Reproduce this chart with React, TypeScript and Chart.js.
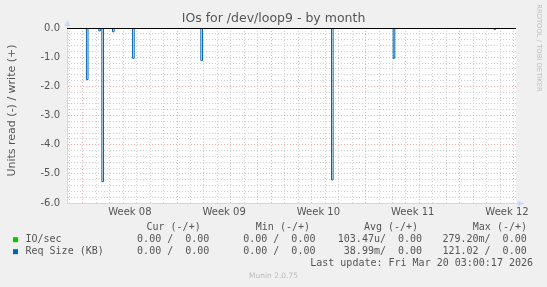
import { useEffect, useRef } from 'react';
import { Chart, registerables } from 'chart.js';

Chart.register(...registerables);

// ---- data (x in days since Monday of Week 08) ----
const rangeStart = -1.17;
const rangeEnd = 32.17;
const sampleStep = 0.12; // width of one consolidated sample, in days

const spikeStartDays = [0.27, 1.19, 1.42, 2.21, 3.7, 8.77, 18.47, 23.05, 30.54];
const reqSizeRead = [-1.77, -0.1, -5.27, -0.13, -1.04, -1.12, -5.21, -1.04, -0.05];
const ioSecRead = [0, 0, 0, 0, 0, 0, 0, 0, 0];

const weekLabels = ['Week 08', 'Week 09', 'Week 10', 'Week 11', 'Week 12'];
const weekMidDays = [3.5, 10.5, 17.5, 24.5, 31.5];
const gridDays = [-1, 0, 1, 2, 3, 4, 5, 6, 7, 8, 9, 10, 11, 12, 13, 14, 15, 16, 17, 18, 19, 20, 21, 22, 23, 24, 25, 26, 27, 28, 29, 30, 31, 32];
const yMajorTicks = [0, -1, -2, -3, -4, -5, -6];

const titleText = 'IOs for /dev/loop9 - by month';
const yTitleText = 'Units read (-) / write (+)';
const legendHeaders = ['Cur (-/+)', 'Min (-/+)', 'Avg (-/+)', 'Max (-/+)'];
const legendNames = ['IO/sec', 'Req Size (KB)'];
const legendColors = ['#00cc00', '#0066b3'];
const curVals = ['0.00 /  0.00', '0.00 /  0.00'];
const minVals = ['0.00 /  0.00', '0.00 /  0.00'];
const avgVals = ['103.47u/  0.00', ' 38.99m/  0.00'];
const maxVals = ['279.20m/  0.00', '121.02 /  0.00'];
const lastUpdate = 'Last update: Fri Mar 20 03:00:17 2026';
const muninVersion = 'Munin 2.0.75';
const watermark = 'RRDTOOL / TOBI OETIKER';

// step series: each spike is one consolidated sample held for sampleStep
function buildSeries(starts: number[], vals: number[]) {
  const pts: { x: number; y: number }[] = [{ x: rangeStart, y: 0 }];
  starts.forEach((t, i) => {
    pts.push({ x: t, y: vals[i] });
    pts.push({ x: t + sampleStep, y: 0 });
  });
  pts.push({ x: rangeEnd, y: 0 });
  return pts;
}

const yMinorTicks: number[] = [];
for (let i = 0; i <= 30; i++) yMinorTicks.push(Math.round((-6 + i * 0.2) * 10) / 10);

const MINOR = '#cfcfcf';
const MAJOR = 'rgba(226,110,110,0.55)';
const AXIS = '#CFD6F8';
const FONT = '#555555';

const isInt = (v: number) => Math.abs(v - Math.round(v)) < 1e-9;

const decor = {
  id: 'decor',
  beforeDraw(chart: any) {
    const { ctx, chartArea: a } = chart;
    ctx.save();
    ctx.fillStyle = '#f0f0f0';
    ctx.fillRect(0, 0, chart.width, chart.height);
    ctx.fillStyle = '#ffffff';
    ctx.fillRect(a.left, a.top, a.right - a.left, a.bottom - a.top);
    ctx.restore();
  },
  afterDatasetsDraw(chart: any) {
    const { ctx, chartArea: a } = chart;
    const y0 = Math.round(chart.scales.y.getPixelForValue(0)) + 0.5;
    ctx.save();
    ctx.strokeStyle = '#000000';
    ctx.lineWidth = 1;
    ctx.beginPath();
    ctx.moveTo(a.left, y0);
    ctx.lineTo(a.right, y0);
    ctx.stroke();
    ctx.restore();
  },
  afterDraw(chart: any) {
    const { ctx, chartArea: a } = chart;
    ctx.save();
    // arrows
    ctx.fillStyle = AXIS;
    ctx.beginPath();
    ctx.moveTo(a.left + 0.5, a.top - 8);
    ctx.lineTo(a.left + 3.5, a.top - 2);
    ctx.lineTo(a.left - 2.5, a.top - 2);
    ctx.closePath();
    ctx.fill();
    ctx.fillRect(a.left, a.top - 3, 1, 3);
    ctx.beginPath();
    ctx.moveTo(a.right + 8, a.bottom + 0.5);
    ctx.lineTo(a.right + 2, a.bottom - 2.5);
    ctx.lineTo(a.right + 2, a.bottom + 3.5);
    ctx.closePath();
    ctx.fill();
    ctx.fillRect(a.right, a.bottom, 3, 1);

    // title
    ctx.fillStyle = FONT;
    ctx.textAlign = 'center';
    ctx.textBaseline = 'middle';
    ctx.font = '12.5px "DejaVu Sans"';
    ctx.fillText(titleText, 273.5, 19);

    // y title
    ctx.save();
    ctx.translate(12.5, 110.5);
    ctx.rotate(-Math.PI / 2);
    ctx.font = '11px "DejaVu Sans"';
    ctx.fillText(yTitleText, 0, 0);
    ctx.restore();

    // watermark
    ctx.save();
    ctx.translate(538.5, 48);
    ctx.rotate(Math.PI / 2);
    ctx.fillStyle = '#bdbdbd';
    ctx.font = '6.8px "DejaVu Sans"';
    ctx.fillText(watermark, 0, 0);
    ctx.restore();

    // legend
    ctx.font = '10px "DejaVu Sans Mono"';
    ctx.textAlign = 'left';
    ctx.fillStyle = FONT;
    const headerX = [146.5, 255.8, 363.9, 472.8];
    legendHeaders.forEach((h, i) => ctx.fillText(h, headerX[i], 227.5));
    const rowY = [239.7, 251.7];
    const valX = [137.1, 243.2, 337.8, 442.4];
    legendNames.forEach((n, i) => {
      ctx.fillStyle = legendColors[i];
      ctx.fillRect(13, rowY[i] - 2.5, 5, 5);
      ctx.fillStyle = FONT;
      ctx.fillText(n, 25.5, rowY[i]);
      ctx.fillText(curVals[i], valX[0], rowY[i]);
      ctx.fillText(minVals[i], valX[1], rowY[i]);
      ctx.fillText(avgVals[i], valX[2], rowY[i]);
      ctx.fillText(maxVals[i], valX[3], rowY[i]);
    });
    ctx.textAlign = 'right';
    ctx.fillText(lastUpdate, 533, 263.7);

    ctx.textAlign = 'center';
    ctx.fillStyle = '#bbbbbb';
    ctx.font = '7.5px "DejaVu Sans"';
    ctx.fillText(muninVersion, 273.5, 276);
    ctx.restore();
  },
};

export default function App() {
  const ref = useRef<HTMLCanvasElement>(null);
  useEffect(() => {
    const canvas = ref.current;
    if (!canvas) return;
    const xTicks = [...gridDays, ...weekMidDays].sort((p, q) => p - q);
    const chart = new Chart(canvas, {
      type: 'line',
      data: {
        datasets: [
          {
            label: legendNames[0],
            data: buildSeries(spikeStartDays, ioSecRead),
            borderColor: legendColors[0],
            borderWidth: 1,
            pointRadius: 0,
            stepped: 'before',
            fill: false,
          },
          {
            label: legendNames[1],
            data: buildSeries(spikeStartDays, reqSizeRead),
            borderColor: legendColors[1],
            borderWidth: 1,
            pointRadius: 0,
            stepped: 'before',
            fill: false,
          },
        ],
      },
      options: {
        responsive: false,
        animation: false,
        devicePixelRatio: 1,
        layout: { padding: { left: 0, top: 28, right: 31, bottom: 0 } },
        plugins: {
          legend: { display: false },
          tooltip: { enabled: false },
          title: { display: false },
        },
        scales: {
          x: {
            type: 'linear',
            min: rangeStart,
            max: rangeEnd,
            afterBuildTicks: (s: any) => {
              s.ticks = xTicks.map((v) => ({ value: v }));
            },
            afterFit: (s: any) => {
              s.height = 84;
            },
            grid: {
              drawTicks: false,
              color: (c: any) => {
                const v = c.tick?.value;
                if (v === undefined || weekMidDays.includes(v)) return 'rgba(0,0,0,0)';
                return v % 7 === 0 ? MAJOR : MINOR;
              },
            },
            border: { display: true, color: AXIS, width: 1, dash: [1, 2] },
            ticks: {
              autoSkip: false,
              maxRotation: 0,
              padding: 3,
              color: FONT,
              font: { family: 'DejaVu Sans', size: 10 },
              callback: (v: any) => {
                const i = weekMidDays.indexOf(Number(v));
                return i >= 0 ? weekLabels[i] : '';
              },
            },
          },
          y: {
            type: 'linear',
            min: -6,
            max: 0,
            afterBuildTicks: (s: any) => {
              s.ticks = yMinorTicks.map((v) => ({ value: v }));
            },
            afterFit: (s: any) => {
              s.width = 67;
            },
            grid: {
              drawTicks: false,
              color: (c: any) => {
                const v = c.tick?.value;
                if (v === undefined || v === 0 || v === -6) return 'rgba(0,0,0,0)';
                return isInt(v) ? MAJOR : MINOR;
              },
            },
            border: { display: true, color: AXIS, width: 1, dash: [1, 2] },
            ticks: {
              autoSkip: false,
              padding: 7,
              color: FONT,
              font: { family: 'DejaVu Sans', size: 10 },
              callback: (v: any) => {
                const n = Number(v);
                return isInt(n) && yMajorTicks.includes(Math.round(n)) ? n.toFixed(1) : '';
              },
            },
          },
        },
      },
      plugins: [decor],
    });
    return () => chart.destroy();
  }, []);
  return (
    <div style={{ position: 'absolute', left: 0, top: 0, width: 547, height: 287 }}>
      <canvas ref={ref} width={547} height={287} style={{ display: 'block', width: 547, height: 287 }} />
    </div>
  );
}
